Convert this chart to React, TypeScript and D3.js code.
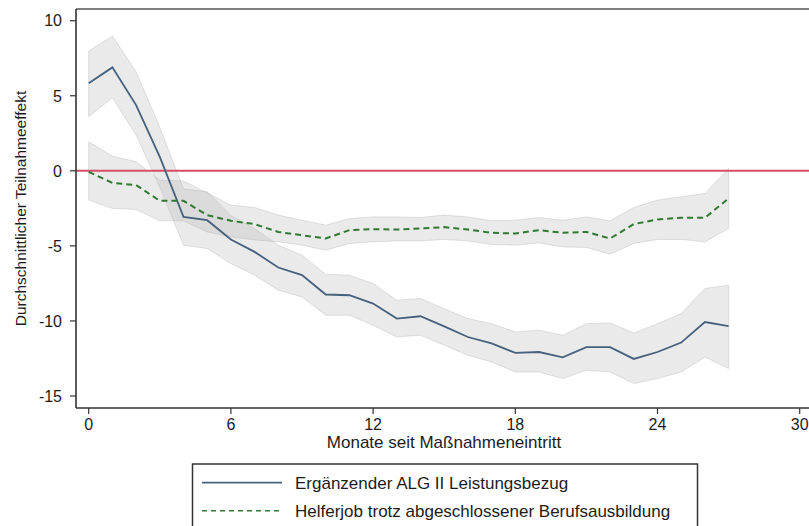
import React from "react";
import * as d3 from "d3";

const months = [0,1,2,3,4,5,6,7,8,9,10,11,12,13,14,15,16,17,18,19,20,21,22,23,24,25,26,27];

const alg2 = [5.83, 6.89, 4.38, 0.93, -3.07, -3.29, -4.57, -5.4, -6.44, -6.95, -8.24, -8.29, -8.84, -9.84, -9.69, -10.36, -11.07, -11.5, -12.13, -12.07, -12.42, -11.75, -11.75, -12.53, -12.07, -11.44, -10.07, -10.35];
const alg2Upper = [7.98, 8.98, 6.6, 2.9, -1.2, -1.4, -2.97, -3.85, -4.95, -5.62, -6.89, -6.95, -7.51, -8.62, -8.5, -9.18, -9.84, -10.18, -10.73, -10.62, -10.95, -10.18, -10.13, -10.8, -10.18, -9.51, -7.84, -7.62];
const alg2Lower = [3.6, 4.87, 2.38, -1.1, -4.95, -5.18, -6.18, -6.95, -7.95, -8.4, -9.62, -9.62, -10.29, -11.07, -10.95, -11.62, -12.29, -12.73, -13.4, -13.4, -13.84, -13.29, -13.4, -14.17, -13.84, -13.4, -12.4, -13.17];

const helfer = [-0.07, -0.8, -0.95, -2.0, -2.0, -2.95, -3.33, -3.55, -4.07, -4.29, -4.51, -3.95, -3.89, -3.91, -3.84, -3.75, -3.91, -4.13, -4.18, -3.95, -4.13, -4.07, -4.51, -3.55, -3.24, -3.13, -3.13, -1.84];
const helferUpper = [1.93, 0.98, 0.6, -0.62, -0.67, -1.47, -2.29, -2.44, -2.95, -3.29, -3.62, -3.18, -3.07, -3.07, -3.11, -2.95, -3.07, -3.33, -3.29, -3.11, -3.29, -3.07, -3.33, -2.44, -1.95, -1.73, -1.51, 0.16];
const helferLower = [-1.95, -2.51, -2.57, -3.33, -3.33, -4.07, -4.4, -4.6, -4.73, -4.95, -5.29, -4.84, -4.73, -4.67, -4.67, -4.57, -4.67, -4.91, -4.95, -4.8, -5.07, -5.1, -5.55, -4.84, -4.57, -4.57, -4.73, -3.84];

const xTicks = [0, 6, 12, 18, 24, 30];
const yTicks = [10, 5, 0, -5, -10, -15];

const seriesLabels = ["Ergänzender ALG II Leistungsbezug", "Helferjob trotz abgeschlossener Berufsausbildung"];
const xTitle = "Monate seit Maßnahmeneintritt";
const yTitle = "Durchschnittlicher Teilnahmeeffekt";

const W = 809, H = 526;
const FONT = "'Liberation Sans', Arial, sans-serif";
const BLUE = "#46607e";
const GREEN = "#2f7a30";
const RED = "#d64c6b";
const TEXT = "#1c1c1c";

export default function App() {
  const x = d3.scaleLinear().domain([0, 30]).range([88.7, 799.7]);
  const y = d3.scaleLinear().domain([-15, 10]).range([396, 20.7]);
  const left = 76, top = 9, bottom = 408, right = 812;

  const band = (up: number[], lo: number[]) =>
    d3.area<number>().x((m) => x(m)).y0((m, i) => y(lo[i])).y1((m, i) => y(up[i]))(months) || "";
  const line = (v: number[]) => d3.line<number>().x((m) => x(m)).y((m, i) => y(v[i]))(months) || "";

  return (
    <div style={{ position: "fixed", left: 0, top: 0 }}>
      <svg width={W} height={H} style={{ display: "block", background: "#fff" }}>
        {/* bands */}
        <path d={band(alg2Upper, alg2Lower)} fill="#b8b8b8" fillOpacity={0.3} stroke="#b0b0b0" strokeOpacity={0.35} strokeWidth={1} />
        <path d={band(helferUpper, helferLower)} fill="#b8b8b8" fillOpacity={0.3} stroke="#b0b0b0" strokeOpacity={0.35} strokeWidth={1} />
        {/* zero line */}
        <line x1={left} x2={right} y1={y(0)} y2={y(0)} stroke={RED} strokeWidth={2} />
        {/* series */}
        <path d={line(alg2)} fill="none" stroke={BLUE} strokeWidth={1.8} />
        <path d={line(helfer)} fill="none" stroke={GREEN} strokeWidth={2} strokeDasharray="6,4" />
        {/* frame */}
        <line x1={left} x2={right} y1={top} y2={top} stroke="#555" strokeWidth={1.6} />
        <line x1={left} x2={right} y1={bottom} y2={bottom} stroke="#333" strokeWidth={1.6} />
        <line x1={left} x2={left} y1={top} y2={bottom} stroke="#333" strokeWidth={1.6} />
        {/* y ticks */}
        {yTicks.map((t) => (
          <g key={"y" + t}>
            <line x1={left - 6} x2={left} y1={y(t)} y2={y(t)} stroke="#333" strokeWidth={1.2} />
            <text x={62} y={y(t)} dy="0.36em" textAnchor="end" fontFamily={FONT} fontSize={16} fill={TEXT}>{t}</text>
          </g>
        ))}
        {/* x ticks */}
        {xTicks.map((t) => (
          <g key={"x" + t}>
            <line x1={x(t)} x2={x(t)} y1={bottom} y2={bottom + 6} stroke="#333" strokeWidth={1.2} />
            <text x={x(t)} y={430} textAnchor="middle" fontFamily={FONT} fontSize={16} fill={TEXT}>{t}</text>
          </g>
        ))}
        <text x={(left + right) / 2} y={448} textAnchor="middle" fontFamily={FONT} fontSize={17} fill={TEXT}>{xTitle}</text>
        <text transform={`translate(26,${(top + bottom) / 2}) rotate(-90)`} textAnchor="middle" fontFamily={FONT} fontSize={15.5} fill={TEXT}>{yTitle}</text>
        {/* legend */}
        <rect x={192.5} y={464} width={505} height={80} fill="#fff" stroke="#333" strokeWidth={1.5} />
        <line x1={202} x2={282} y1={482.7} y2={482.7} stroke={BLUE} strokeWidth={1.8} />
        <text x={295} y={489} fontFamily={FONT} fontSize={17} fill={TEXT}>{seriesLabels[0]}</text>
        <line x1={202} x2={282} y1={510.7} y2={510.7} stroke={GREEN} strokeWidth={1.6} strokeDasharray="5,4" />
        <text x={295} y={517} fontFamily={FONT} fontSize={17} fill={TEXT}>{seriesLabels[1]}</text>
      </svg>
    </div>
  );
}
